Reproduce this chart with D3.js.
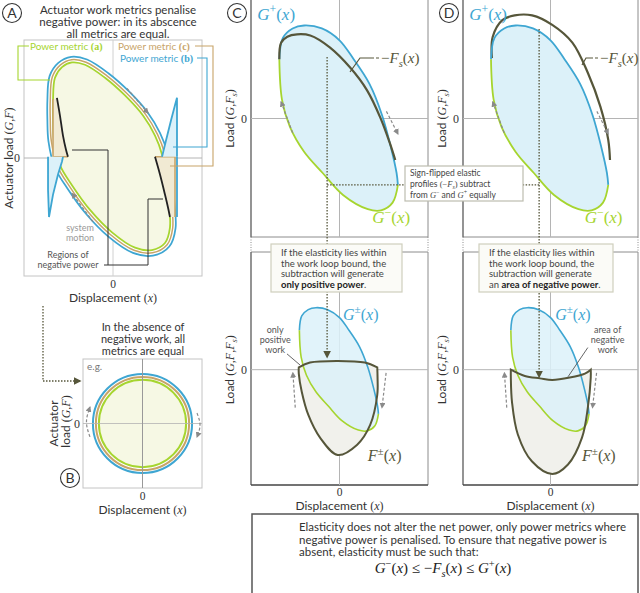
<!DOCTYPE html>
<html>
<head>
<meta charset="utf-8">
<script src="https://cdn.jsdelivr.net/npm/d3@7"></script>
<style>
  body { margin: 0; background: #fff; }
  text { font-family: Lato, "Open Sans", sans-serif; }
</style>
</head>
<body>
<svg id="fig" width="640" height="593"></svg>
<script>
// ---- data (normalised displacement / load units) ----

// panel A: the work loop (power metric a), clockwise
const loopA = [[-0.674,0.49],[-0.652,0.68],[-0.573,0.77],[-0.461,0.81],[-0.315,0.79],[-0.09,0.68],
  [0.135,0.53],[0.337,0.36],[0.472,0.19],[0.551,0.03],[0.596,-0.19],[0.629,-0.40],[0.64,-0.59],
  [0.584,-0.72],[0.438,-0.78],[0.247,-0.76],[-0.011,-0.63],[-0.258,-0.44],[-0.461,-0.23],
  [-0.596,-0.06],[-0.663,0.15],[-0.674,0.32]];
// regions of negative power (black segments)
const negLeftA = [[-0.63,0.51],[-0.596,0.36],[-0.562,0.19],[-0.528,0.07],[-0.506,0.01]];
const negRightA = [[0.472,0.01],[0.528,-0.14],[0.584,-0.31],[0.618,-0.42],[0.64,-0.5]];
// metric b mirrors negative power about zero
const spikeLeftA = [[-0.73,0.01],[-0.73,-0.27],[-0.719,-0.5],[-0.674,-0.31],[-0.618,-0.14],[-0.573,-0.03],[-0.562,0.01]];
const spikeRightA = [[0.551,0.01],[0.596,0.15],[0.652,0.32],[0.697,0.45],[0.719,0.51],[0.719,0.01]];
// metric c bounds
const tanLeftA = [[-0.674,0.5],[-0.674,0.01],[-0.506,0.01]];
const tanRightA = [[0.472,0.01],[0.697,0.01],[0.697,-0.5]];

// panel B: circular loop, radius per metric
const metricsB = ['b', 'c', 'a'];
const radiiB = [1.0, 0.94, 0.88];

// panels C/D: actuator bounds G+ (upper) and G- (lower)
const gUpper = [[-0.68,0.50],[-0.64,0.68],[-0.53,0.76],[-0.40,0.785],[-0.2,0.76],[0.0,0.66],
  [0.16,0.5],[0.34,0.29],[0.48,0.03],[0.58,-0.24],[0.645,-0.46],[0.66,-0.56]];
const gLower = [[0.66,-0.56],[0.6,-0.71],[0.47,-0.775],[0.32,-0.765],[0.04,-0.645],[-0.19,-0.46],
  [-0.4,-0.28],[-0.56,-0.07],[-0.65,0.16],[-0.68,0.50]];
// elastic profiles -Fs
const fsC = [[-0.68,0.50],[-0.66,0.64],[-0.59,0.69],[-0.48,0.71],[-0.33,0.70],[-0.11,0.60],
  [0.12,0.43],[0.31,0.24],[0.46,0.01],[0.57,-0.21],[0.63,-0.35]];
const fsD = [[-0.67,0.51],[-0.66,0.69],[-0.55,0.83],[-0.41,0.87],[-0.21,0.87],[0.02,0.79],
  [0.25,0.64],[0.43,0.38],[0.57,0.10],[0.66,-0.18],[0.68,-0.35]];
// resulting loads F±
const fTopC = [[-0.69,0.03],[-0.5,0.09],[-0.03,0.11],[0.43,0.09],[0.64,0.03]];
const fBotC = [[0.64,0.03],[0.645,-0.1],[0.64,-0.32],[0.52,-0.70],[0.30,-0.95],[-0.03,-1.08],
  [-0.33,-0.86],[-0.53,-0.57],[-0.64,-0.28],[-0.69,-0.05],[-0.69,0.03]];
const fTopD = [[-0.68,0],[-0.44,-0.08],[-0.18,-0.11],[0.03,-0.13],[0.33,-0.10],[0.59,-0.05],[0.69,0]];
const fBotD = [[0.69,0],[0.69,-0.1],[0.64,-0.48],[0.54,-0.86],[0.3,-1.2],[0.03,-1.32],
  [-0.32,-1.16],[-0.56,-0.82],[-0.66,-0.41],[-0.68,-0.1],[-0.68,0]];

const titleA = ['Actuator work metrics penalise', 'negative power: in its abscence', 'all metrics are equal.'];
const titleB = ['In the absence of', 'negative work, all', 'metrics are equal'];
const boxLines = ['If the elasticity lies within', 'the work loop bound, the', 'subtraction will generate'];
const footer = ['Elasticity does not alter the net power, only power metrics where',
  'negative power is penalised. To ensure that negative power is',
  'absent, elasticity must be such that:'];

// ---- styles ----
const COL = {
  blue: '#3ea6d2', green: '#a6d52f', tan: '#c8a468', olive: '#56563a',
  lightBlue: '#dcf1f9', lightYellow: '#f6f8e4', lightTan: '#f1ead3', grayFill: '#f1f1ec',
  axis: '#b4b4b4', frame: '#8c8c8c', arrow: '#8a8a8a', text: '#333'
};
const SERIF = '"Liberation Serif", "DejaVu Serif", serif';

const svg = d3.select('#fig');
const defs = svg.append('defs');
defs.append('marker').attr('id', 'ah').attr('viewBox', '0 0 10 10').attr('refX', 8).attr('refY', 5)
  .attr('markerWidth', 5).attr('markerHeight', 5).attr('orient', 'auto')
  .append('path').attr('d', 'M0,0L10,5L0,10z').attr('fill', COL.arrow);
defs.append('marker').attr('id', 'ahOlive').attr('viewBox', '0 0 10 10').attr('refX', 8).attr('refY', 5)
  .attr('markerWidth', 6).attr('markerHeight', 6).attr('orient', 'auto')
  .append('path').attr('d', 'M0,0L10,5L0,10z').attr('fill', COL.olive);

function mathText(sel, x, y, parts, size, color, anchor) {
  const t = sel.append('text').attr('x', x).attr('y', y).attr('fill', color)
    .attr('font-size', size).attr('text-anchor', anchor || 'start')
    .style('font-family', SERIF);
  let shift = 0;
  parts.forEach(p => {
    const s = t.append('tspan').text(p[0]);
    let want = 0;
    const f = p[1] || '';
    if (f.includes('i')) s.attr('font-style', 'italic');
    if (f.includes('sup')) { want = -size * 0.42; s.attr('font-size', size * 0.7); }
    if (f.includes('sub')) { want = size * 0.25; s.attr('font-size', size * 0.7); }
    if (f.includes('sans')) s.style('font-family', 'Lato, sans-serif');
    if (want !== shift) { s.attr('dy', want - shift); shift = want; }
  });
  return t;
}

function circledLetter(x, y, letter) {
  svg.append('circle').attr('cx', x).attr('cy', y).attr('r', 9.5).attr('fill', '#fff')
    .attr('stroke', '#333').attr('stroke-width', 1.1);
  svg.append('text').attr('x', x).attr('y', y + 5).attr('text-anchor', 'middle')
    .attr('font-size', 14).attr('fill', '#333').text(letter);
}

function lineIn(xs, ys, c) { return d3.line().x(d => xs(d[0])).y(d => ys(d[1])).curve(c || d3.curveCatmullRom); }
function dashArrow(g, xs, ys, a, b) {
  g.append('path').attr('d', d3.line()([[xs(a[0]), ys(a[1])], [xs(b[0]), ys(b[1])]]))
    .attr('stroke', COL.arrow).attr('stroke-width', 1.2).attr('stroke-dasharray', '3,2')
    .attr('fill', 'none').attr('marker-end', 'url(#ah)');
}

// =================== PANEL A ===================
const xA = d3.scaleLinear([-1, 1], [24, 202]);
const yA = d3.scaleLinear([-1, 1], [276, 40]);
const gA = svg.append('g');

circledLetter(12, 13, 'A');
gA.selectAll('text.title').data(titleA).join('text')
  .attr('x', 118).attr('y', (d, i) => 14 + i * 12).attr('text-anchor', 'middle')
  .attr('font-size', 11.5).attr('fill', COL.text).text(d => d);

gA.append('rect').attr('x', xA(-1)).attr('y', yA(1)).attr('width', xA(1) - xA(-1))
  .attr('height', yA(-1) - yA(1)).attr('fill', 'none').attr('stroke', '#c4c4c4');
gA.append('line').attr('x1', xA(-1)).attr('x2', xA(1)).attr('y1', yA(0)).attr('y2', yA(0)).attr('stroke', COL.axis);
gA.append('line').attr('x1', xA(0)).attr('x2', xA(0)).attr('y1', yA(1)).attr('y2', yA(-1)).attr('stroke', '#d0d0d0');

const loopPath = lineIn(xA, yA, d3.curveCatmullRomClosed)(loopA);
[[COL.blue, 13], ['#fff', 9.5], [COL.tan, 7], ['#fff', 4]].forEach(([c, w]) => {
  gA.append('path').attr('d', loopPath).attr('fill', 'none').attr('stroke', c).attr('stroke-width', w);
});
gA.append('path').attr('d', loopPath).attr('fill', COL.lightYellow).attr('stroke', COL.green).attr('stroke-width', 1.8);

// metric c regions
gA.append('path').attr('d', lineIn(xA, yA, d3.curveLinear)(negLeftA.concat([[-0.674, 0.01], [-0.674, 0.49]])))
  .attr('fill', COL.lightTan).attr('stroke', 'none');
gA.append('path').attr('d', lineIn(xA, yA, d3.curveLinear)(negRightA.concat([[0.697, -0.5], [0.697, 0.01]])))
  .attr('fill', COL.lightTan).attr('stroke', 'none');
[tanLeftA, tanRightA].forEach(d => gA.append('path').attr('d', lineIn(xA, yA, d3.curveLinear)(d))
  .attr('fill', 'none').attr('stroke', COL.tan).attr('stroke-width', 1.6));
// metric b spikes
[spikeLeftA, spikeRightA].forEach(d => gA.append('path').attr('d', lineIn(xA, yA, d3.curveLinear)(d))
  .attr('fill', COL.lightBlue).attr('stroke', COL.blue).attr('stroke-width', 1.8));
gA.append('path').attr('d', lineIn(xA, yA, d3.curveLinear)([[0.719, 0.01], [0.719, -0.5]]))
  .attr('stroke', COL.blue).attr('stroke-width', 1.8).attr('fill', 'none');
// negative power segments
[negLeftA, negRightA].forEach(d => gA.append('path').attr('d', lineIn(xA, yA)(d))
  .attr('fill', 'none').attr('stroke', '#222').attr('stroke-width', 1.8));

// legend call-outs
const legA = [
  { label: 'Power metric ', tag: '(a)', color: COL.green, tx: 30, ty: 50,
    pts: [[29, 46], [18, 46], [18, 80], [50, 80]] },
  { label: 'Power metric ', tag: '(c)', color: COL.tan, tx: 118, ty: 50,
    pts: [[195, 46], [213, 46], [213, 166], [170, 166]] },
  { label: 'Power metric ', tag: '(b)', color: COL.blue, tx: 120, ty: 62,
    pts: [[197, 58], [207, 58], [207, 147], [173, 147]] }
];
legA.forEach(l => {
  gA.append('path').attr('d', d3.line()(l.pts)).attr('fill', 'none').attr('stroke', l.color).attr('stroke-width', 1.1);
  const t = gA.append('text').attr('x', l.tx).attr('y', l.ty).attr('font-size', 10).attr('fill', l.color)
    .style('paint-order', 'stroke').attr('stroke', '#fff').attr('stroke-width', 3);
  t.append('tspan').text(l.label);
  t.append('tspan').text(l.tag).style('font-family', SERIF).attr('font-weight', 'bold');
});

// motion arrows & notes
dashArrow(gA, xA, yA, [0.157, 0.59], [0.393, 0.38]);
dashArrow(gA, xA, yA, [-0.225, -0.54], [-0.46, -0.3]);
gA.selectAll('text.sm').data(['system', 'motion']).join('text')
  .attr('x', 80).attr('y', (d, i) => 231 + i * 9.5).attr('text-anchor', 'middle')
  .attr('font-size', 9).attr('fill', '#999').text(d => d);
gA.selectAll('text.neg').data(['Regions of', 'negative power']).join('text')
  .attr('x', 68).attr('y', (d, i) => 258 + i * 9.5).attr('text-anchor', 'middle')
  .attr('font-size', 9).attr('fill', '#555').text(d => d);
gA.append('path').attr('d', d3.line()([[72, 150], [108, 150], [108, 265], [104, 265]]))
  .attr('fill', 'none').attr('stroke', '#333').attr('stroke-width', 1);
gA.append('path').attr('d', d3.line()([[108, 265], [148, 265], [148, 199], [163, 199]]))
  .attr('fill', 'none').attr('stroke', '#333').attr('stroke-width', 1);

mathText(gA, xA(-1) - 4, yA(0) + 4, [['0', '']], 12, COL.text, 'end');
mathText(gA, xA(0), 287.5, [['0', '']], 11.5, COL.text, 'middle');
mathText(gA, xA(0), 302, [['Displacement ', 'sans'], ['(', ''], ['x', 'i'], [')', '']], 12, COL.text, 'middle');
mathText(gA, 0, 0, [['Actuator load ', 'sans'], ['(', ''], ['G', 'i'], [',', ''], ['F', 'i'], [')', '']], 12, COL.text, 'middle')
  .attr('transform', `translate(13,${yA(0)}) rotate(-90)`);

// dotted link to B
svg.append('path').attr('d', d3.line()([[43, 306], [43, 381], [80, 381]]))
  .attr('fill', 'none').attr('stroke', COL.olive).attr('stroke-width', 1.3).attr('stroke-dasharray', '1.5,1.5')
  .attr('marker-end', 'url(#ahOlive)');

// =================== PANEL B ===================
const xB = d3.scaleLinear([-1.2, 1.2], [83, 202]);
const yB = d3.scaleLinear([-1.3, 1.3], [488, 359]);
const gB = svg.append('g');
gB.selectAll('text.tb').data(titleB).join('text')
  .attr('x', 143).attr('y', (d, i) => 331 + i * 12).attr('text-anchor', 'middle')
  .attr('font-size', 11).attr('fill', COL.text).text(d => d);
gB.append('rect').attr('x', xB(-1.2)).attr('y', yB(1.3)).attr('width', xB(1.2) - xB(-1.2))
  .attr('height', yB(-1.3) - yB(1.3)).attr('fill', 'none').attr('stroke', '#c4c4c4');
const colB = { a: COL.green, b: COL.blue, c: COL.tan };
gB.selectAll('circle.m').data(radiiB).join('circle')
  .attr('cx', xB(0)).attr('cy', yB(0)).attr('r', d => xB(d) - xB(0))
  .attr('fill', (d, i) => i === radiiB.length - 1 ? COL.lightYellow : 'none')
  .attr('stroke', (d, i) => colB[metricsB[i]]).attr('stroke-width', 2);
gB.append('line').attr('x1', xB(-1.2)).attr('x2', xB(1.2)).attr('y1', yB(0)).attr('y2', yB(0)).attr('stroke', COL.axis).attr('opacity', 0.8);
gB.append('line').attr('x1', xB(0)).attr('x2', xB(0)).attr('y1', yB(1.3)).attr('y2', yB(-1.3)).attr('stroke', '#999');
[[[-1.06, -0.27], [-1.13, 0.03], [-1.06, 0.33]], [[1.1, 0.21], [1.16, -0.03], [1.1, -0.27]]].forEach(a => {
  gB.append('path').attr('d', lineIn(xB, yB, d3.curveNatural)(a)).attr('fill', 'none')
    .attr('stroke', COL.arrow).attr('stroke-width', 1.2).attr('stroke-dasharray', '3,2').attr('marker-end', 'url(#ah)');
});
gB.append('text').attr('x', 87).attr('y', 370).attr('font-size', 10).attr('fill', '#777').text('e.g.');
mathText(gB, 80, yB(0) + 4, [['0', '']], 12, COL.text, 'end');
mathText(gB, xB(0), 499.5, [['0', '']], 11.5, COL.text, 'middle');
mathText(gB, xB(0), 514, [['Displacement ', 'sans'], ['(', ''], ['x', 'i'], [')', '']], 12, COL.text, 'middle');
mathText(gB, 0, 0, [['Actuator', 'sans']], 12, COL.text, 'middle').attr('transform', `translate(58,${yB(0)}) rotate(-90)`);
mathText(gB, 0, 0, [['load ', 'sans'], ['(', ''], ['G', 'i'], [',', ''], ['F', 'i'], [')', '']], 12, COL.text, 'middle')
  .attr('transform', `translate(70,${yB(0) - 2}) rotate(-90)`);
circledLetter(70, 478, 'B');

// =================== PANELS C & D ===================
function panel(cfg) {
  const g = svg.append('g');
  const L = cfg.left, R = cfg.right, B = 485;
  const xt = d3.scaleLinear([-1, 1], [L, R]);
  const yt = d3.scaleLinear([-1, 1], [237, 0]);
  const xb = d3.scaleLinear([-1.5, 1.5], [L, R]);
  const yb = d3.scaleLinear([-1.46, 1.49], [B, 252]);

  // frames
  g.append('line').attr('x1', L).attr('x2', R).attr('y1', 237).attr('y2', 237).attr('stroke', COL.frame);
  g.append('line').attr('x1', L).attr('x2', R).attr('y1', 252).attr('y2', 252).attr('stroke', COL.frame);
  [L, R].forEach(x => {
    g.append('line').attr('x1', x).attr('x2', x).attr('y1', 0).attr('y2', 237).attr('stroke', x === L ? '#666' : COL.frame).attr('stroke-width', x === L ? 1.4 : 1);
    g.append('line').attr('x1', x).attr('x2', x).attr('y1', 252).attr('y2', B).attr('stroke', x === L ? '#666' : COL.frame).attr('stroke-width', x === L ? 1.4 : 1);
    g.append('line').attr('x1', x).attr('x2', x).attr('y1', 237).attr('y2', 252).attr('stroke', COL.frame).attr('stroke-dasharray', '1,1.5');
  });
  g.append('line').attr('x1', L).attr('x2', R).attr('y1', B).attr('y2', B).attr('stroke', '#444').attr('stroke-width', 1.5);
  g.append('line').attr('x1', L).attr('x2', R).attr('y1', yt(0)).attr('y2', yt(0)).attr('stroke', COL.axis);
  g.append('line').attr('x1', xt(0)).attr('x2', xt(0)).attr('y1', 0).attr('y2', 237).attr('stroke', COL.axis);
  g.append('line').attr('x1', L).attr('x2', R).attr('y1', yb(0)).attr('y2', yb(0)).attr('stroke', COL.axis);
  g.append('line').attr('x1', xb(0)).attr('x2', xb(0)).attr('y1', 252).attr('y2', B).attr('stroke', COL.axis);

  // top: bounds and elastic profile
  const ring = gUpper.concat(gLower.slice(1, -1));
  g.append('path').attr('d', lineIn(xt, yt, d3.curveCatmullRomClosed)(ring)).attr('fill', COL.lightBlue);
  if (cfg.fsOutside) g.append('path').attr('d', lineIn(xt, yt)(cfg.fs)).attr('fill', 'none').attr('stroke', COL.olive).attr('stroke-width', 2.2);
  g.append('path').attr('d', lineIn(xt, yt)(gUpper)).attr('fill', 'none').attr('stroke', COL.blue).attr('stroke-width', 1.8);
  g.append('path').attr('d', lineIn(xt, yt)(gLower)).attr('fill', 'none').attr('stroke', COL.green).attr('stroke-width', 1.8);
  if (!cfg.fsOutside) g.append('path').attr('d', lineIn(xt, yt)(cfg.fs)).attr('fill', 'none').attr('stroke', COL.olive).attr('stroke-width', 2.2);

  dashArrow(g, xt, yt, [-0.53, -0.12], [-0.66, 0.14]);
  dashArrow(g, xt, yt, [0.53, 0.06], [0.66, -0.13]);
  mathText(g, xt(-0.93), yt(0.83), [['G', 'i'], ['+', 'sup'], ['(', ''], ['x', 'i'], [')', '']], 17, COL.blue);
  mathText(g, xt(cfg.gmX), yt(-0.88), [['G', 'i'], ['−', 'sup'], ['(', ''], ['x', 'i'], [')', '']], 17, COL.green);
  g.append('path').attr('d', d3.line()(cfg.fsLeader)).attr('fill', 'none').attr('stroke', COL.olive).attr('stroke-width', 1.2);
  g.append('path').attr('d', d3.line()([cfg.fsLeader[2], [cfg.fsLeader[2][0] + 8, cfg.fsLeader[2][1]]]))
    .attr('stroke', COL.olive).attr('stroke-width', 1.2).attr('stroke-dasharray', '3,2');
  mathText(g, cfg.fsLeader[2][0] + 10, cfg.fsLeader[2][1] + 5, [['−', ''], ['F', 'i'], ['s', 'i sub'], ['(', ''], ['x', 'i'], [')', '']], 15, COL.olive);

  // bottom: net load F± and bounds G±
  const fPath = lineIn(xb, yb)(cfg.fTop) + lineIn(xb, yb)(cfg.fBot).replace(/^M/, 'L') + 'Z';
  g.append('path').attr('d', fPath).attr('fill', COL.grayFill);
  g.append('path').attr('d', lineIn(xb, yb, d3.curveCatmullRomClosed)(ring)).attr('fill', COL.lightBlue).attr('opacity', 0.85);
  g.append('path').attr('d', lineIn(xb, yb)(gUpper)).attr('fill', 'none').attr('stroke', COL.blue).attr('stroke-width', 1.6);
  g.append('path').attr('d', lineIn(xb, yb)(gLower)).attr('fill', 'none').attr('stroke', COL.green).attr('stroke-width', 1.6);
  g.append('path').attr('d', fPath).attr('fill', 'none').attr('stroke', COL.olive).attr('stroke-width', 2);
  dashArrow(g, xb, yb, [-0.75, -0.48], [-0.79, -0.04]);
  dashArrow(g, xb, yb, [0.79, -0.04], [0.72, -0.48]);
  mathText(g, xb(cfg.gpmX), yb(0.63), [['G', 'i'], ['±', 'sup'], ['(', ''], ['x', 'i'], [')', '']], 16, COL.blue);
  mathText(g, xb(cfg.fpmX), yb(-1.16), [['F', 'i'], ['±', 'sup'], ['(', ''], ['x', 'i'], [')', '']], 16, COL.olive);
  g.selectAll('text.note').data(cfg.note).join('text')
    .attr('x', xb(cfg.noteX)).attr('y', (d, i) => yb(0.46) + i * 10).attr('text-anchor', 'middle')
    .attr('font-size', 9).attr('fill', '#555').text(d => d);
  g.append('path').attr('d', lineIn(xb, yb, d3.curveLinear)(cfg.noteLeader)).attr('fill', 'none')
    .attr('stroke', '#555').attr('stroke-width', 0.9);

  // dotted connector down to the bottom plot
  const dx = xt(cfg.dotX);
  g.append('path').attr('d', d3.line()([[dx, yt(cfg.dotTop)], [dx, yb(cfg.dotEnd)]]))
    .attr('stroke', COL.olive).attr('stroke-width', 1.3).attr('stroke-dasharray', '1.5,1.5').attr('fill', 'none')
    .attr('marker-end', 'url(#ahOlive)');
  g.append('path').attr('d', d3.line()([[dx, yt(-0.56)], [cfg.hookX, yt(-0.56)]]))
    .attr('stroke', COL.olive).attr('stroke-width', 1.3).attr('stroke-dasharray', '1.5,1.5').attr('fill', 'none');

  // text box
  const bx = cfg.box;
  g.append('rect').attr('x', bx[0]).attr('y', 244).attr('width', bx[1] - bx[0]).attr('height', 48)
    .attr('fill', '#fbfbf7').attr('stroke', '#cfcfbd').attr('stroke-width', 1.2);
  g.selectAll('text.box').data(boxLines).join('text')
    .attr('x', bx[0] + 10).attr('y', (d, i) => 256 + i * 10.5).attr('font-size', 9.5).attr('fill', '#444').text(d => d);
  const last = g.append('text').attr('x', bx[0] + 10).attr('y', 287.5).attr('font-size', 9.5).attr('fill', '#444');
  if (cfg.prefix) last.append('tspan').text(cfg.prefix);
  last.append('tspan').attr('font-weight', 'bold').attr('fill', '#222').text(cfg.bold);
  last.append('tspan').text('.');

  // axes labels
  mathText(g, L - 4, yt(0) + 4, [['0', '']], 12, COL.text, 'end');
  mathText(g, L - 4, yb(0) + 4, [['0', '']], 12, COL.text, 'end');
  mathText(g, 0, 0, [['Load ', 'sans'], ['(', ''], ['G', 'i'], [',', ''], ['F', 'i'], ['s', 'i sub'], [')', '']], 12, COL.text, 'middle')
    .attr('transform', `translate(${L - 17},${yt(0)}) rotate(-90)`);
  mathText(g, 0, 0, [['Load ', 'sans'], ['(', ''], ['G', 'i'], [',', ''], ['F', 'i'], [',', ''], ['F', 'i'], ['s', 'i sub'], [')', '']], 12, COL.text, 'middle')
    .attr('transform', `translate(${L - 17},${yb(0)}) rotate(-90)`);
  mathText(g, xb(0), 495.5, [['0', '']], 11.5, COL.text, 'middle');
  mathText(g, xb(0), 510, [['Displacement ', 'sans'], ['(', ''], ['x', 'i'], [')', '']], 12, COL.text, 'middle');
  circledLetter(L - 14, 13, cfg.letter);
}

panel({
  letter: 'C', left: 251, right: 428, fs: fsC, fsOutside: false, fTop: fTopC, fBot: fBotC,
  gmX: 0.37, gpmX: 0.06, fpmX: 0.48,
  fsLeader: [[350, 72], [360, 58], [371, 58]],
  note: ['only', 'positive', 'work'], noteX: -1.09, noteLeader: [[-0.89, 0.2], [-0.67, 0.06]],
  dotX: -0.14, dotTop: 0.52, dotEnd: 0.16, hookX: 405,
  box: [271, 402], prefix: '', bold: 'only positive power'
});
panel({
  letter: 'D', left: 463, right: 638, fs: fsD, fsOutside: true, fTop: fTopD, fBot: fBotD,
  gmX: 0.39, gpmX: 0.08, fpmX: 0.54,
  fsLeader: [[582, 65], [586, 58], [590, 58]],
  note: ['area of', 'negative', 'work'], noteX: 0.98, noteLeader: [[0.64, 0.28], [0.3, -0.09]],
  dotX: -0.13, dotTop: 0.755, dotEnd: -0.09, hookX: 523,
  box: [479, 613], prefix: 'an ', bold: 'area of negative power'
});

// shared note box between C and D
const sb = svg.append('g');
sb.append('rect').attr('x', 405).attr('y', 166).attr('width', 118).attr('height', 35)
  .attr('fill', '#fff').attr('stroke', '#bdbdb0').attr('stroke-width', 1.2);
sb.append('text').attr('x', 410).attr('y', 176).attr('font-size', 8.5).attr('fill', '#444').text('Sign-flipped elastic');
mathText(sb, 410, 187, [['profiles ', 'sans'], ['(', ''], ['−', ''], ['F', 'i'], ['s', 'i sub'], [')', ''], [' subtract', 'sans']], 8.5, '#444');
mathText(sb, 410, 198, [['from ', 'sans'], ['G', 'i'], ['−', 'sup'], [' and ', 'sans'], ['G', 'i'], ['+', 'sup'], [' equally', 'sans']], 8.5, '#444');

// =================== FOOTER ===================
const ft = svg.append('g');
ft.append('rect').attr('x', 252).attr('y', 514).attr('width', 386).attr('height', 84)
  .attr('fill', '#fff').attr('stroke', '#555').attr('stroke-width', 1.5);
ft.selectAll('text.f').data(footer).join('text')
  .attr('x', 299).attr('y', (d, i) => 531 + i * 12.5).attr('font-size', 11.5).attr('fill', '#333').text(d => d);
mathText(ft, 443, 573, [['G', 'i'], ['−', 'sup'], ['(', ''], ['x', 'i'], [')  ≤  −', ''], ['F', 'i'], ['s', 'i sub'],
  ['(', ''], ['x', 'i'], [')  ≤  ', ''], ['G', 'i'], ['+', 'sup'], ['(', ''], ['x', 'i'], [')', '']], 15, '#222', 'middle');
</script>
</body>
</html>
